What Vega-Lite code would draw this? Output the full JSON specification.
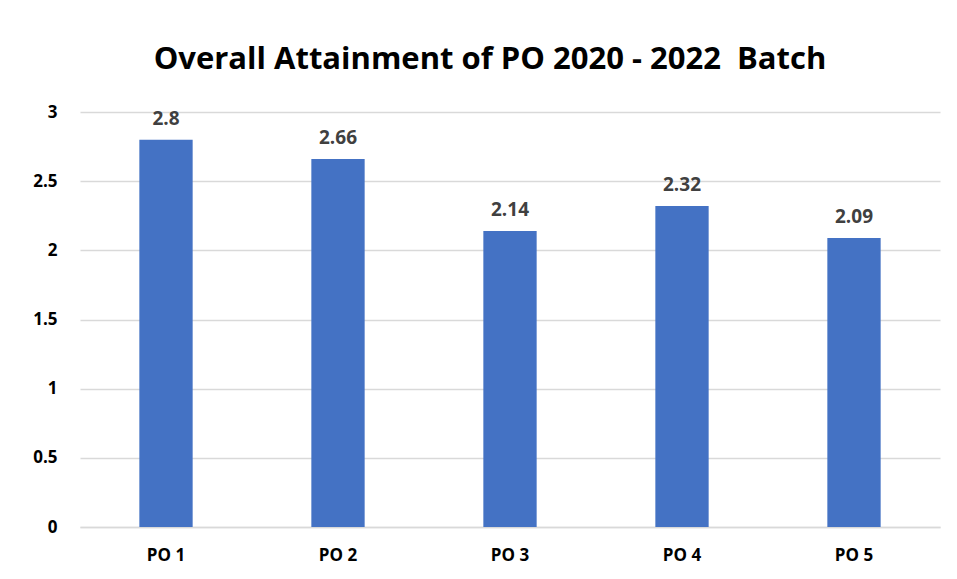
{
  "$schema": "https://vega.github.io/schema/vega-lite/v6.json",
  "width": 860,
  "height": 415,
  "autosize": "none",
  "padding": {"left": 80, "top": 112, "right": 17, "bottom": 52},
  "background": "white",
  "title": {
    "text": "Overall Attainment of PO 2020 - 2022 \u00a0Batch",
    "font": "Open Sans",
    "fontSize": 31,
    "fontWeight": "bold",
    "color": "#000000",
    "anchor": "middle",
    "dx": -20,
    "offset": 27
  },
  "data": {
    "values": [
      {"po": "PO 1", "value": 2.8},
      {"po": "PO 2", "value": 2.66},
      {"po": "PO 3", "value": 2.14},
      {"po": "PO 4", "value": 2.32},
      {"po": "PO 5", "value": 2.09}
    ]
  },
  "encoding": {
    "x": {
      "field": "po",
      "type": "nominal",
      "sort": null,
      "scale": {"paddingInner": 0.69, "paddingOuter": 0.345},
      "axis": {
        "title": null,
        "labelAngle": 0,
        "labelFont": "Open Sans",
        "labelFontSize": 17,
        "labelFontWeight": "bold",
        "labelColor": "#000000",
        "labelPadding": 20,
        "ticks": false,
        "domainColor": "#d9d9d9",
        "domainWidth": 1.5
      }
    },
    "y": {
      "field": "value",
      "type": "quantitative",
      "scale": {"domain": [0, 3]},
      "axis": {
        "title": null,
        "values": [0, 0.5, 1, 1.5, 2, 2.5, 3],
        "format": "~g",
        "labelFont": "Open Sans",
        "labelFontSize": 17,
        "labelFontWeight": "bold",
        "labelColor": "#000000",
        "labelPadding": 23,
        "ticks": false,
        "domain": false,
        "gridColor": "#d9d9d9",
        "gridWidth": 1.5
      }
    }
  },
  "layer": [
    {"mark": {"type": "bar", "color": "#4472C4"}},
    {
      "mark": {
        "type": "text",
        "baseline": "bottom",
        "dy": -11,
        "font": "Open Sans",
        "fontSize": 19,
        "fontWeight": "bold",
        "color": "#404040"
      },
      "encoding": {"text": {"field": "value", "type": "quantitative"}}
    }
  ],
  "config": {"view": {"stroke": null}}
}
